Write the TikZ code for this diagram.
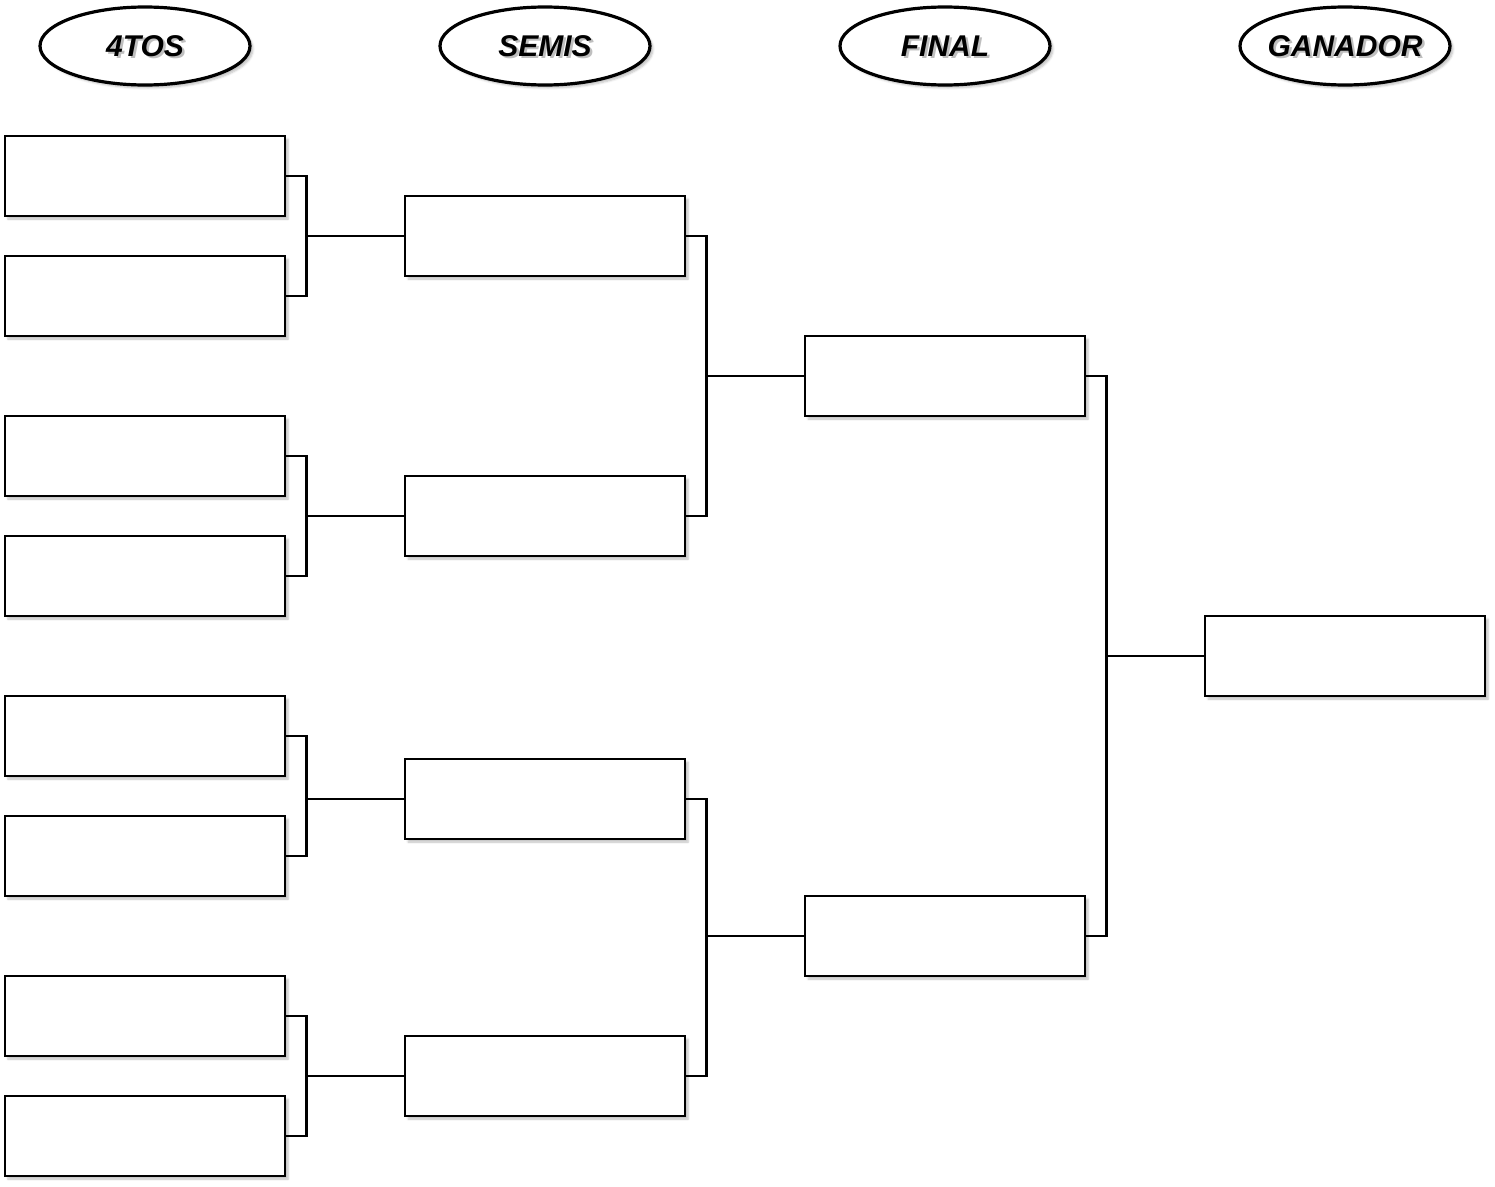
\documentclass[tikz,border=0pt]{standalone}
\usepackage{fontspec}
\setmainfont{Liberation Sans}
\usepackage{tikz}
\usetikzlibrary{shapes.geometric,shadows.blur}

\tikzset{
  slot/.style={draw,line width=2.6pt,fill=white,minimum width=280pt,minimum height=80pt,inner sep=0pt,
    blur shadow={shadow xshift=3pt,shadow yshift=-3pt,shadow blur steps=5,shadow opacity=25}},
  round/.style={draw,ellipse,line width=3.2pt,fill=white,minimum width=210pt,minimum height=78pt,inner sep=0pt,
    blur shadow={shadow xshift=3pt,shadow yshift=-3pt,shadow blur steps=5,shadow opacity=25}},
  headtext/.style={font=\fontsize{30}{31}\selectfont\bfseries\itshape,inner sep=0pt},
  link/.style={line width=2.6pt}
}

\begin{document}
\begin{tikzpicture}[x=1pt,y=-1pt]
    \useasboundingbox (0,0) rectangle (1495,1186);
    % headers
    \foreach \x/\lab/\n in {145/4TOS/1, 545/SEMIS/2, 945/FINAL/3, 1345/GANADOR/4}{
      \node[round] (h\n) at (\x,46) {};
      \node[headtext,black!25] at ([xshift=2.5pt,yshift=-2.5pt]h\n.center) {\lab};
      \node[headtext] (t\n) at (h\n.center) {\lab};
    }
    % cuartos
    \foreach \y [count=\i] in {176,296,456,576,736,856,1016,1136}{
      \node[slot] (q\i) at (145,\y) {};
    }
    % semis
    \foreach \y [count=\i] in {236,516,799,1076}{
      \node[slot] (s\i) at (545,\y) {};
    }
    \node[slot] (f1) at (945,376) {};
    \node[slot] (f2) at (945,936) {};
    \node[slot] (g) at (1345,656) {};
    % brackets
    \foreach \a/\b in {q1/s1, q2/s1, q3/s2, q4/s2, q5/s3, q6/s3, q7/s4, q8/s4,
                       s1/f1, s2/f1, s3/f2, s4/f2, f1/g, f2/g}{
      \draw[link] (\a.east) -- ++(20,0) |- (\b.west);
    }
  \end{tikzpicture}
\end{document}
